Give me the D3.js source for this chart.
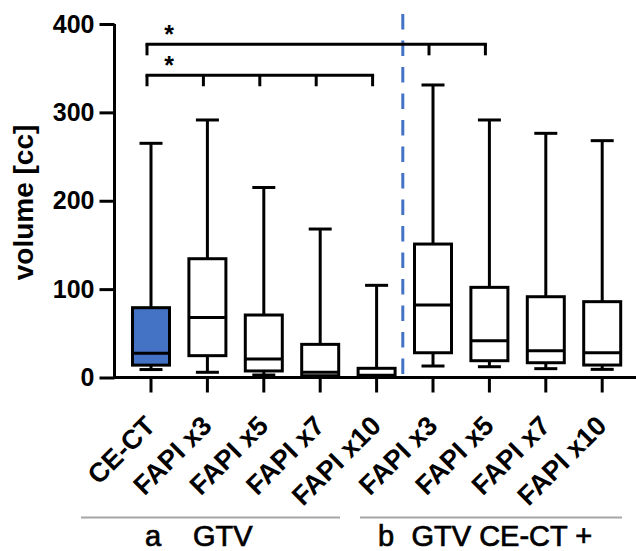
<!DOCTYPE html>
<html>
<head>
<meta charset="utf-8">
<script src="https://cdn.jsdelivr.net/npm/d3@7"></script>
<style>
html,body{margin:0;padding:0;background:#fff;}
svg text{font-family:"Liberation Sans",Arial,Helvetica,sans-serif;}
</style>
</head>
<body>
<svg id="chart" width="636" height="551"></svg>
<script>
// ---- data ----
const categories = ["CE-CT","FAPI x3","FAPI x5","FAPI x7","FAPI x10","FAPI x3","FAPI x5","FAPI x7","FAPI x10"];
const mins   = [9,   5.9,  2.8,  0.5, 0.2, 13,  12.2, 10,   9.2];
const q1s    = [14,  24.7, 7.4,  2,   0.6, 28,  19,   16.7, 14.1];
const medians= [27.4,68,   21,   6,   2.5, 82,  41.6, 30.3, 28];
const q3s    = [79,  134.4,70.7, 37.5,10.4,151, 102,  91.4, 85.8];
const maxs   = [265, 291.4,215,  168, 104.3,331,291.4,276.3,268];
const yTicks = [0,100,200,300,400];
const groupLetters = ["a","b"];
const groupNames = ["GTV","GTV CE-CT +"];
const brackets = [{level:377, from:0, to:6, legs:[0,5,6]},{level:342, from:0, to:4, legs:[0,1,2,3,4]}];
const yLabel = "volume [cc]";

// ---- layout ----
const svg = d3.select("#chart");
const y = d3.scaleLinear().domain([0,400]).range([377.5,24]);
const idx = categories.map((c,i)=>i);
const x = d3.scaleBand().domain(idx).range([122.8,630.4]);
const cx = i => x(i) + x.bandwidth()/2;
const black = "#000";
const blue = "#4472c4";
const lw = 3;
const FONT = "'Liberation Sans',Arial,sans-serif";

// y axis
const yAxis = svg.append("g").attr("transform","translate(114.5,0)")
  .call(d3.axisLeft(y).tickValues(yTicks).tickSize(15).tickPadding(5));
yAxis.select(".domain").attr("d",`M0,${y(400)}V${y(0)}`).attr("stroke",black).attr("stroke-width",lw);
yAxis.selectAll(".tick line").attr("stroke",black).attr("stroke-width",lw);
yAxis.selectAll(".tick text").attr("font-size",25).attr("font-weight","bold").attr("fill",black)
  .attr("font-family",FONT);

// x axis
const xAxis = svg.append("g").attr("transform",`translate(0,${y(0)})`)
  .call(d3.axisBottom(x).tickSize(15).tickFormat(i=>categories[i]));
xAxis.select(".domain").attr("d",`M113,0H636`).attr("stroke",black).attr("stroke-width",lw);
xAxis.selectAll(".tick line").attr("stroke",black).attr("stroke-width",lw);
xAxis.selectAll(".tick text")
  .attr("font-size",27).attr("font-weight","bold").attr("fill",black)
  .attr("font-family",FONT)
  .attr("text-anchor","end").attr("dy",null).attr("y",null)
  .attr("transform","translate(6,50) rotate(-45)");

// y label
svg.append("text").attr("transform",`translate(33,${(125+280)/2}) rotate(-90)`)
  .attr("text-anchor","middle").attr("font-size",28).attr("font-weight","bold").text(yLabel);

// dashed separator
const sepX = (cx(4)+cx(5))/2 - 2;
svg.append("line").attr("x1",sepX).attr("x2",sepX).attr("y1",14).attr("y2",y(0)-3)
  .attr("stroke",blue).attr("stroke-width",3).attr("stroke-dasharray","15.5,11");

// boxes
const boxW = 37, capW = 23;
const g = svg.append("g");
idx.forEach(i=>{
  const c = cx(i);
  g.append("line").attr("x1",c).attr("x2",c).attr("y1",y(q3s[i])).attr("y2",y(maxs[i])).attr("stroke",black).attr("stroke-width",lw);
  g.append("line").attr("x1",c).attr("x2",c).attr("y1",y(q1s[i])).attr("y2",y(mins[i])).attr("stroke",black).attr("stroke-width",lw);
  g.append("line").attr("x1",c-capW/2).attr("x2",c+capW/2).attr("y1",y(maxs[i])).attr("y2",y(maxs[i])).attr("stroke",black).attr("stroke-width",lw);
  g.append("line").attr("x1",c-capW/2).attr("x2",c+capW/2).attr("y1",y(mins[i])).attr("y2",y(mins[i])).attr("stroke",black).attr("stroke-width",lw);
  g.append("rect").attr("x",c-boxW/2).attr("width",boxW).attr("y",y(q3s[i])).attr("height",y(q1s[i])-y(q3s[i]))
    .attr("fill", i===0?blue:"#fff").attr("stroke",black).attr("stroke-width",lw);
  g.append("line").attr("x1",c-boxW/2).attr("x2",c+boxW/2).attr("y1",y(medians[i])).attr("y2",y(medians[i])).attr("stroke",black).attr("stroke-width",lw);
});

// significance brackets
brackets.forEach(b=>{
  const yy = y(b.level), leg = 11, off = -4;
  const x0 = cx(b.from)+off, x1 = cx(b.to)+off;
  svg.append("line").attr("x1",x0-1.5).attr("x2",x1+1.5).attr("y1",yy).attr("y2",yy).attr("stroke",black).attr("stroke-width",lw);
  b.legs.forEach(l=>{
    const xl = cx(l)+off;
    svg.append("line").attr("x1",xl).attr("x2",xl).attr("y1",yy).attr("y2",yy+leg).attr("stroke",black).attr("stroke-width",lw);
  });
  svg.append("text").attr("x",cx(b.from)+18).attr("y",yy-1).attr("text-anchor","middle")
    .attr("font-size",25).attr("font-weight","bold").text("*");
});

// group lines and labels
const groupLines = [[81,340],[360,622]];
groupLines.forEach(([xa,xb])=>{
  svg.append("line").attr("x1",xa).attr("x2",xb).attr("y1",517.5).attr("y2",517.5).attr("stroke","#a6a6a6").attr("stroke-width",2);
});
const letterX = [145,378], nameX = [193,411.5];
groupLetters.forEach((t,k)=>{
  svg.append("text").attr("x",letterX[k]).attr("y",546).attr("font-size",29)
    .attr("stroke","#000").attr("stroke-width",0.7).text(t);
  svg.append("text").attr("x",nameX[k]).attr("y",546).attr("font-size",29)
    .attr("stroke","#000").attr("stroke-width",0.7).text(groupNames[k]);
});
</script>
</body>
</html>
